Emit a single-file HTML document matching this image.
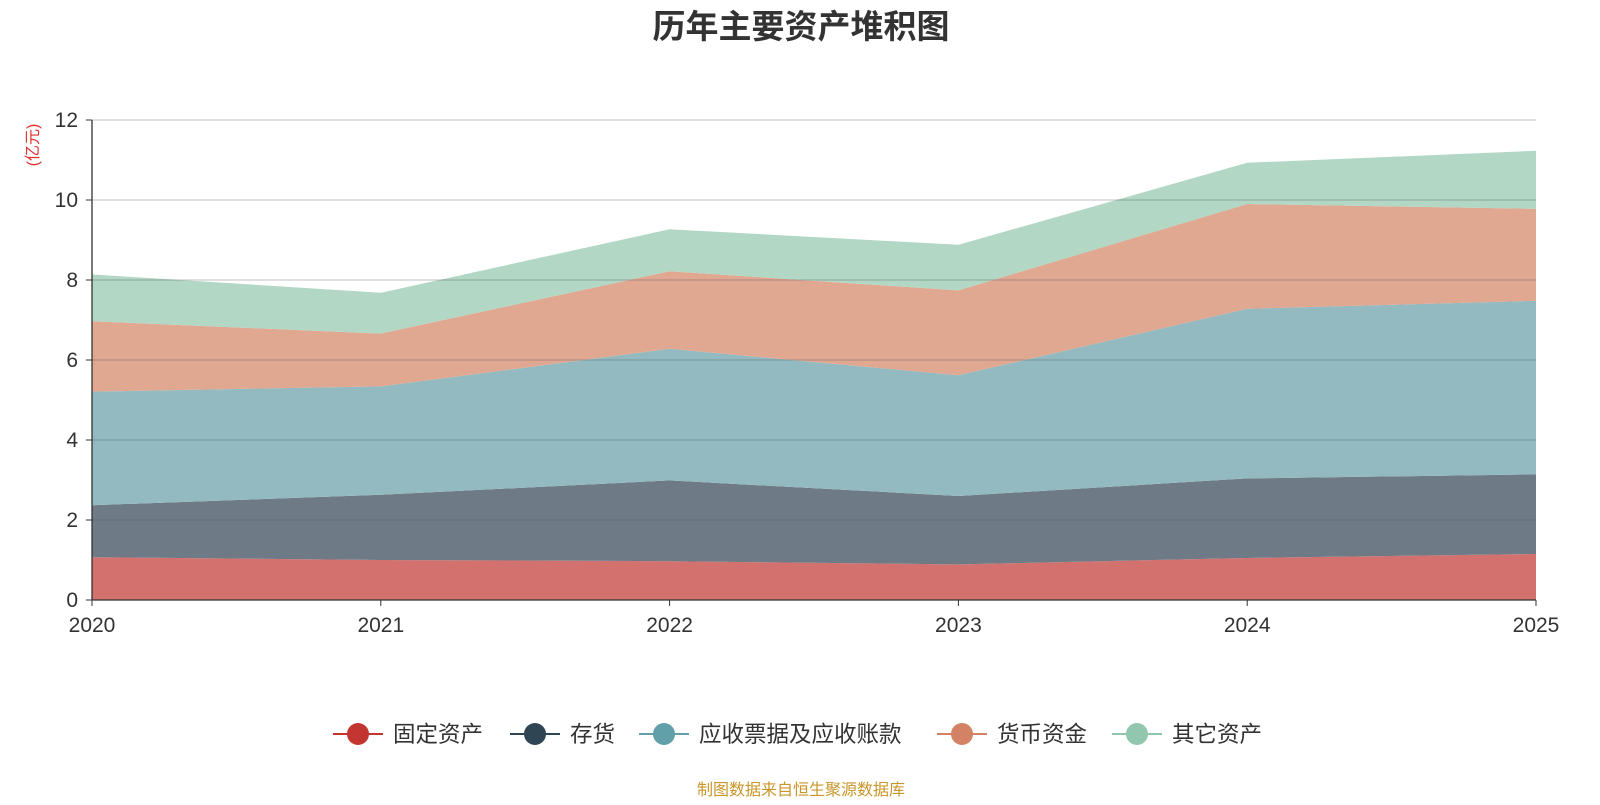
<!DOCTYPE html>
<html><head><meta charset="utf-8"><style>
body{margin:0;background:#fff;font-family:"Liberation Sans","Noto Sans CJK SC",sans-serif;}
</style></head><body>
<svg id="c" width="1600" height="800" xmlns="http://www.w3.org/2000/svg">
<text x="801" y="38" text-anchor="middle" font-size="33" font-weight="bold" fill="#333" font-family="Liberation Sans,Noto Sans CJK SC,sans-serif">历年主要资产堆积图</text>
<text transform="translate(38,145) rotate(-90)" text-anchor="middle" font-size="16" fill="#e03030" font-family="Liberation Sans,Noto Sans CJK SC,sans-serif">(亿元)</text>
<g id="areas"></g><g id="grid"></g><g id="axes"></g><g id="legend"></g>
<text x="801" y="795" text-anchor="middle" font-size="16" fill="#c8962a" font-family="Liberation Sans,Noto Sans CJK SC,sans-serif">制图数据来自恒生聚源数据库</text>
</svg>
<script>
const years=["2020","2021","2022","2023","2024","2025"];
const fixedAssets=[1.07,1.0,0.97,0.89,1.05,1.15];
const inventory=[1.30,1.63,2.02,1.71,1.99,1.99];
const receivables=[2.84,2.71,3.29,3.02,4.24,4.34];
const cash=[1.76,1.32,1.94,2.12,2.62,2.30];
const otherAssets=[1.17,1.02,1.05,1.14,1.03,1.45];
const yTicks=[0,2,4,6,8,10,12];
const seriesNames=["固定资产","存货","应收票据及应收账款","货币资金","其它资产"];
const NS="http://www.w3.org/2000/svg";
const x0=92,x1=1536,y0=600,y1=120,yMax=12;
const X=i=>x0+(x1-x0)*i/(years.length-1);
const Y=v=>y0-(y0-y1)*v/yMax;
function mk(t,a,p){const e=document.createElementNS(NS,t);for(const k in a)e.setAttribute(k,a[k]);p.appendChild(e);return e;}
const series=[fixedAssets,inventory,receivables,cash,otherAssets];
const fills=["#d3716f","#6e7b86","#92bac0","#e0a791","#b2d7c5"];
const lineC=["#c23531","#2f4554","#61a0a8","#d48265","#91c7ae"];
const keys=["fixed-assets","inventory","receivables","cash","other-assets"];
const areas=document.getElementById('areas');
let base=years.map(()=>0);
series.forEach((s,k)=>{
  const top=base.map((b,i)=>b+s[i]);
  let d="M"+top.map((v,i)=>X(i)+","+Y(v)).join("L");
  for(let i=years.length-1;i>=0;i--)d+="L"+X(i)+","+Y(base[i]);
  const p=mk('path',{d:d+"Z",fill:fills[k]},areas);
  
  
  base=top;
});
const grid=document.getElementById('grid'),axes=document.getElementById('axes');
yTicks.forEach(t=>{
  if(t>0){const l=mk('line',{x1:x0,x2:x1,y1:Y(t),y2:Y(t),stroke:"#555","stroke-opacity":0.3,"stroke-width":1.3},grid);
  }
  mk('line',{x1:x0-6,x2:x0,y1:Y(t),y2:Y(t),stroke:"#333"},axes);
  const tx=mk('text',{x:x0-14,y:Y(t)+7,"text-anchor":"end","font-size":21,fill:"#333"},axes);
  tx.textContent=t;
});
mk('line',{x1:x0,x2:x0,y1:y1,y2:y0,stroke:"#333","stroke-width":1.3},axes);
mk('line',{x1:x0,x2:x1,y1:y0,y2:y0,stroke:"#333","stroke-width":1.3},axes);
years.forEach((yr,i)=>{
  mk('line',{x1:X(i),x2:X(i),y1:y0,y2:y0+6,stroke:"#333"},axes);
  const tx=mk('text',{x:X(i),y:y0+32,"text-anchor":"middle","font-size":21,fill:"#333"},axes);
  tx.textContent=yr;
});
const lg=document.getElementById('legend');
const starts=[333,510,639,937,1112];
seriesNames.forEach((n,k)=>{
  const lx=starts[k];
  const g=mk('g',{},lg);
  
  
  mk('line',{x1:lx,x2:lx+50,y1:734,y2:734,stroke:lineC[k],"stroke-width":2},g);
  mk('circle',{cx:lx+25,cy:734,r:11,fill:lineC[k]},g);
  const t=mk('text',{x:lx+60,y:742,"font-size":22.5,fill:"#333","font-family":"Liberation Sans,Noto Sans CJK SC,sans-serif"},g);
  t.textContent=n;
});
</script>
</body></html>
